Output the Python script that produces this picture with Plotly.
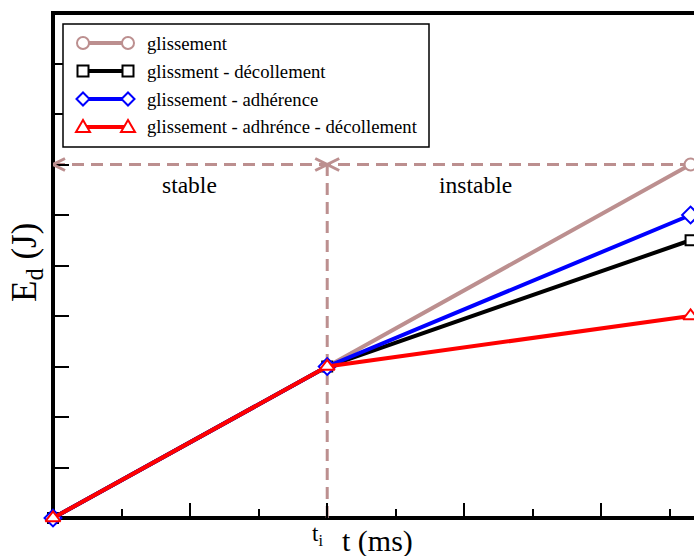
import plotly.graph_objects as go

# ---------------- data ----------------
t = [0, 4, 9.3]                      # ms (arbitrary units)
t_i = 4
E_limit = 7
x_max = 9.35
y_max = 10

series_names = ["glissement", "glissment - décollement",
                "glissement - adhérence", "glissement - adhrénce - décollement"]
E_glissement = [0, 3, 7]
E_decollement = [0, 3, 5.5]
E_adherence = [0, 3, 6]
E_all = [0, 3, 4]
series_values = [E_glissement, E_decollement, E_adherence, E_all]

region_labels = ["stable", "instable"]

# ---------------- styles ----------------
colors = ["#bc8f8f", "#000000", "#0000ff", "#ff0000"]
symbols = ["circle", "square", "diamond", "triangle-up"]
msizes = [12, 10, 13, 13]
FONT = "Liberation Serif"

W, H = 694, 556
L, R, T, B = 53, 0, 13, 38
PW, PH = W - L - R, H - T - B


def px(x):
    return (x - L) / PW


def py(y):
    return (H - B - y) / PH


fig = go.Figure()

# reference dashed lines
fig.add_trace(go.Scatter(x=[0, t[-1]], y=[E_limit, E_limit], mode="lines",
                         line=dict(color=colors[0], width=3, dash="12px,7px"),
                         showlegend=False, hoverinfo="skip", cliponaxis=False))
fig.add_trace(go.Scatter(x=[t_i, t_i], y=[0, E_limit], mode="lines",
                         line=dict(color=colors[0], width=3, dash="12px,7px"),
                         showlegend=False, hoverinfo="skip", cliponaxis=False))

for name, vals, c, s, ms in zip(series_names, series_values, colors, symbols, msizes):
    fig.add_trace(go.Scatter(
        x=t, y=vals, mode="lines+markers", name=name,
        line=dict(color=c, width=4),
        marker=dict(symbol=s, size=ms, color="white", line=dict(color=c, width=2)),
        cliponaxis=False, showlegend=False))

shapes = []
# frame (left, top, bottom)
shapes.append(dict(type="path", xref="paper", yref="paper",
                   path="M 1,1 L 0,1 L 0,0 L 1,0",
                   line=dict(color="black", width=4), layer="below"))

# arrowheads of the dashed limit line
ah = dict(type="path", xref="x", yref="y", xsizemode="pixel", ysizemode="pixel",
          line=dict(color=colors[0], width=3))
shapes.append(dict(ah, xanchor=0, yanchor=E_limit, path="M 12,6 L 0,0 L 12,-6"))
shapes.append(dict(ah, xanchor=t_i, yanchor=E_limit, path="M -12,6 L 0,0 L -12,-6"))
shapes.append(dict(ah, xanchor=t_i, yanchor=E_limit, path="M 12,6 L 0,0 L 12,-6"))

# custom legend
shapes.append(dict(type="rect", xref="paper", yref="paper",
                   x0=px(63), x1=px(429), y0=py(147), y1=py(24),
                   line=dict(color="black", width=1.5), fillcolor="white", layer="above"))
rows = [43, 71, 99, 127]
annotations = []
for i, (name, c) in enumerate(zip(series_names, colors)):
    yy = py(rows[i])
    shapes.append(dict(type="line", xref="paper", yref="paper", x0=px(83), x1=px(128),
                       y0=yy, y1=yy, line=dict(color=c, width=4), layer="above"))
    for xx in (px(83), px(128)):
        base = dict(xref="paper", yref="paper", xsizemode="pixel", ysizemode="pixel",
                    xanchor=xx, yanchor=yy, fillcolor="white",
                    line=dict(color=c, width=2), layer="above")
        if i == 0:
            shapes.append(dict(base, type="circle", x0=-6, x1=6, y0=-6, y1=6))
        elif i == 1:
            shapes.append(dict(base, type="rect", x0=-5.5, x1=5.5, y0=-5.5, y1=5.5))
        elif i == 2:
            shapes.append(dict(base, type="path", path="M -6.5,0 L 0,6.5 L 6.5,0 L 0,-6.5 Z"))
        else:
            shapes.append(dict(base, type="path", path="M -7,-5 L 0,7 L 7,-5 Z"))
    annotations.append(dict(xref="paper", yref="paper", x=px(145), y=yy, text=name,
                            xanchor="left", yanchor="middle", showarrow=False,
                            font=dict(family=FONT, size=18.7, color="black")))

# region labels
annotations.append(dict(xref="paper", yref="paper", x=px(189), y=py(185), text=region_labels[0],
                        showarrow=False, xanchor="center", yanchor="middle",
                        font=dict(family=FONT, size=23.5, color="black")))
annotations.append(dict(xref="paper", yref="paper", x=px(475), y=py(185), text=region_labels[1],
                        showarrow=False, xanchor="center", yanchor="middle",
                        font=dict(family=FONT, size=23.5, color="black")))
# axis titles
annotations.append(dict(xref="paper", yref="paper", x=px(378), y=py(541), text="t (ms)",
                        showarrow=False, xanchor="center", yanchor="middle",
                        font=dict(family=FONT, size=30, color="black")))
annotations.append(dict(xref="paper", yref="paper", x=px(26), y=py(263),
                        text="E<sub>d</sub> (J)", textangle=-90,
                        showarrow=False, xanchor="center", yanchor="middle",
                        font=dict(family=FONT, size=35, color="black")))
annotations.append(dict(xref="x", yref="paper", x=t_i, xshift=-10, y=py(535),
                        text="t<sub>i</sub>", showarrow=False,
                        xanchor="center", yanchor="middle",
                        font=dict(family=FONT, size=23, color="black")))

fig.update_layout(
    width=W, height=H, margin=dict(l=L, r=R, t=T, b=B, pad=0),
    paper_bgcolor="white", plot_bgcolor="white",
    font=dict(family=FONT),
    shapes=shapes, annotations=annotations, showlegend=False,
    xaxis=dict(range=[0, x_max], showgrid=False, zeroline=False, showline=False,
               ticks="inside", tick0=0, dtick=2, ticklen=15, tickwidth=2, tickcolor="black",
               showticklabels=False,
               minor=dict(ticks="inside", dtick=1, tick0=0, ticklen=9, tickwidth=2,
                          tickcolor="black", showgrid=False)),
    yaxis=dict(range=[0, y_max], showgrid=False, zeroline=False, showline=False,
               ticks="inside", tick0=0, dtick=1, ticklen=16, tickwidth=2, tickcolor="black",
               showticklabels=False),
)

fig.write_html("out.html")
